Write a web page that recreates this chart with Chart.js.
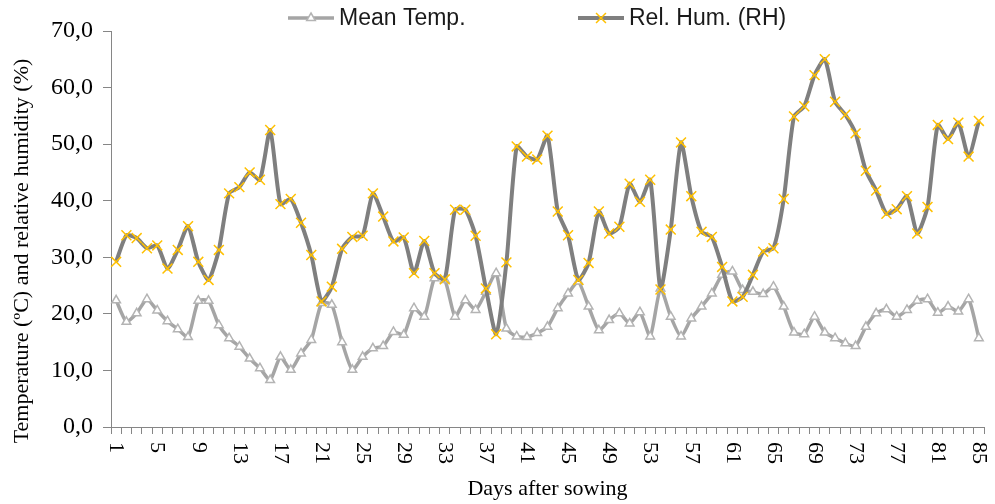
<!DOCTYPE html>
<html>
<head>
<meta charset="utf-8">
<script src="https://cdn.jsdelivr.net/npm/chart.js@4.4.1/dist/chart.umd.min.js"></script>
<style>
    html, body { margin: 0; padding: 0; background: #fff; }
    #wrap { width: 995px; height: 504px; }
</style>
</head>
<body>
<div id="wrap"><canvas id="climateChart" width="995" height="504"></canvas></div>
<script>
const days = [];
for (let d = 1; d <= 85; d++) days.push(String(d));

const meanTemp = [
    22.4, 18.6, 20.1, 22.6, 20.6, 18.7, 17.3, 15.9, 22.3, 22.3,
    18.0, 15.7, 14.2, 12.1, 10.4, 8.3, 12.4, 10.1, 13.0, 15.4,
    21.9, 21.6, 15.0, 10.1, 12.4, 13.9, 14.3, 16.8, 16.3, 21.0,
    19.5, 26.3, 26.0, 19.5, 22.4, 20.7, 23.9, 27.2, 17.4, 16.0,
    15.9, 16.6, 17.7, 21.0, 23.6, 25.7, 21.3, 17.1, 18.9, 20.1,
    18.3, 20.3, 16.0, 24.5, 19.5, 16.0, 19.2, 21.3, 23.6, 26.9,
    27.5, 24.2, 23.9, 23.5, 24.8, 21.3, 16.7, 16.4, 19.5, 16.7,
    15.7, 14.8, 14.3, 17.7, 20.1, 20.8, 19.5, 20.7, 22.3, 22.6,
    20.2, 21.3, 20.4, 22.6, 15.7
];

const relHum = [
    29.2, 33.9, 33.4, 31.6, 32.1, 28.0, 31.3, 35.5, 29.2, 26.0,
    31.3, 41.3, 42.4, 45.0, 43.7, 52.5, 39.4, 40.3, 36.1, 30.4,
    22.2, 24.8, 31.5, 33.6, 33.8, 41.3, 37.2, 32.8, 33.5, 27.2,
    32.9, 27.2, 26.1, 38.4, 38.4, 33.8, 24.5, 16.4, 29.1, 49.6,
    47.8, 47.3, 51.5, 38.1, 33.9, 26.0, 29.0, 38.1, 34.2, 35.4,
    43.0, 39.8, 43.7, 24.3, 34.9, 50.3, 40.8, 34.5, 33.6, 28.3,
    22.2, 23.0, 26.9, 31.0, 31.6, 40.3, 54.9, 56.7, 62.2, 65.0,
    57.5, 55.2, 51.9, 45.3, 41.8, 37.7, 38.5, 40.8, 34.2, 38.9,
    53.4, 50.9, 53.8, 47.8, 54.1
];

const yTitle = 'Temperature (ºC) and relative humidity (%)';

const tempColor = '#a5a5a5';
const humColor = '#7f7f7f';
const crossColor = '#ffc000';
const axisColor = '#868686';

// x labels rotated clockwise (Excel style), every 4th day
const dayLabelsPlugin = {
    id: 'dayLabels',
    afterDraw(chart) {
        const xs = chart.scales.x;
        const ctx = chart.ctx;
        ctx.save();
        ctx.fillStyle = '#000';
        ctx.font = '22px "Liberation Serif"';
        ctx.textAlign = 'left';
        ctx.textBaseline = 'middle';
        for (let i = 0; i < days.length; i += 4) {
            const x = xs.getPixelForValue(i);
            ctx.save();
            ctx.translate(x, xs.top + 15);
            ctx.rotate(Math.PI / 2);
            ctx.fillText(days[i], 0, 0);
            ctx.restore();
        }
        // axis line sticks out a little past the y axis
        ctx.strokeStyle = axisColor;
        ctx.lineWidth = 1;
        ctx.beginPath();
        ctx.moveTo(xs.left - 8, xs.top + 0.5);
        ctx.lineTo(xs.left, xs.top + 0.5);
        ctx.stroke();

        // y title, centred a bit lower than the plot like the original
        ctx.save();
        ctx.translate(22, 251);
        ctx.rotate(-Math.PI / 2);
        ctx.font = '22px "Liberation Serif"';
        ctx.textAlign = 'center';
        ctx.fillText(yTitle, 0, 0);
        ctx.restore();
        ctx.restore();
    }
};

// legend with line + marker samples
const lineLegendPlugin = {
    id: 'lineLegend',
    afterDraw(chart) {
        const ctx = chart.ctx;
        const items = [
            { ds: chart.data.datasets[1], x: 288 },
            { ds: chart.data.datasets[0], x: 578 }
        ];
        const y = 18;
        ctx.save();
        items.forEach(it => {
            const ds = it.ds;
            ctx.strokeStyle = ds.borderColor;
            ctx.lineWidth = ds.borderWidth;
            ctx.beginPath();
            ctx.moveTo(it.x, y);
            ctx.lineTo(it.x + 46, y);
            ctx.stroke();
            ctx.fillStyle = ds.pointBackgroundColor;
            ctx.strokeStyle = ds.pointBorderColor;
            ctx.lineWidth = ds.pointBorderWidth;
            Chart.helpers.drawPoint(ctx, {
                pointStyle: ds.pointStyle,
                radius: ds.pointRadius,
                rotation: 0,
                borderWidth: ds.pointBorderWidth
            }, it.x + 23, y);
            ctx.fillStyle = '#1a1a1a';
            ctx.font = '23px "Liberation Sans"';
            ctx.textAlign = 'left';
            ctx.textBaseline = 'middle';
            ctx.fillText(ds.label, it.x + 51, y + 1);
        });
        ctx.restore();
    }
};

const ctx = document.getElementById('climateChart').getContext('2d');
const climateChart = new Chart(ctx, {
    type: 'line',
    data: {
        labels: days,
        datasets: [{
            label: 'Rel. Hum. (RH)',
            data: relHum,
            borderColor: humColor,
            borderWidth: 4,
            tension: 0.2,
            pointStyle: 'crossRot',
            pointRadius: 7,
            pointBorderColor: crossColor,
            pointBackgroundColor: crossColor,
            pointBorderWidth: 1.5,
            order: 0
        }, {
            label: 'Mean Temp.',
            data: meanTemp,
            borderColor: tempColor,
            borderWidth: 3.5,
            tension: 0.2,
            pointStyle: 'triangle',
            pointRadius: 5,
            pointBorderColor: '#b4b4b4',
            pointBackgroundColor: '#ffffff',
            pointBorderWidth: 1.5,
            order: 1
        }]
    },
    options: {
        responsive: false,
        animation: false,
        layout: {
            padding: { top: 31, right: 11, left: 0, bottom: 0 }
        },
        plugins: {
            legend: { display: false },
            tooltip: { enabled: false }
        },
        scales: {
            x: {
                offset: true,
                grid: {
                    display: true,
                    drawOnChartArea: false,
                    drawTicks: true,
                    tickLength: 7,
                    color: axisColor,
                    offset: true
                },
                border: { color: axisColor, width: 1 },
                ticks: { display: false, autoSkip: false },
                title: {
                    display: true,
                    text: 'Days after sowing',
                    color: '#000',
                    font: { family: 'Liberation Serif', size: 22 },
                    padding: { top: 0, bottom: 2 }
                },
                afterFit: (scale) => { scale.height = 77; }
            },
            y: {
                min: 0,
                max: 70,
                ticks: {
                    stepSize: 10,
                    color: '#000',
                    padding: 10,
                    font: { family: 'Liberation Serif', size: 24 },
                    callback: (v) => v.toFixed(1).replace('.', ',')
                },
                grid: {
                    display: true,
                    drawOnChartArea: false,
                    drawTicks: true,
                    tickLength: 8,
                    color: axisColor
                },
                border: { color: axisColor, width: 1 },
                afterFit: (scale) => { scale.width = 111; }
            }
        }
    },
    plugins: [dayLabelsPlugin, lineLegendPlugin]
});
</script>
</body>
</html>
